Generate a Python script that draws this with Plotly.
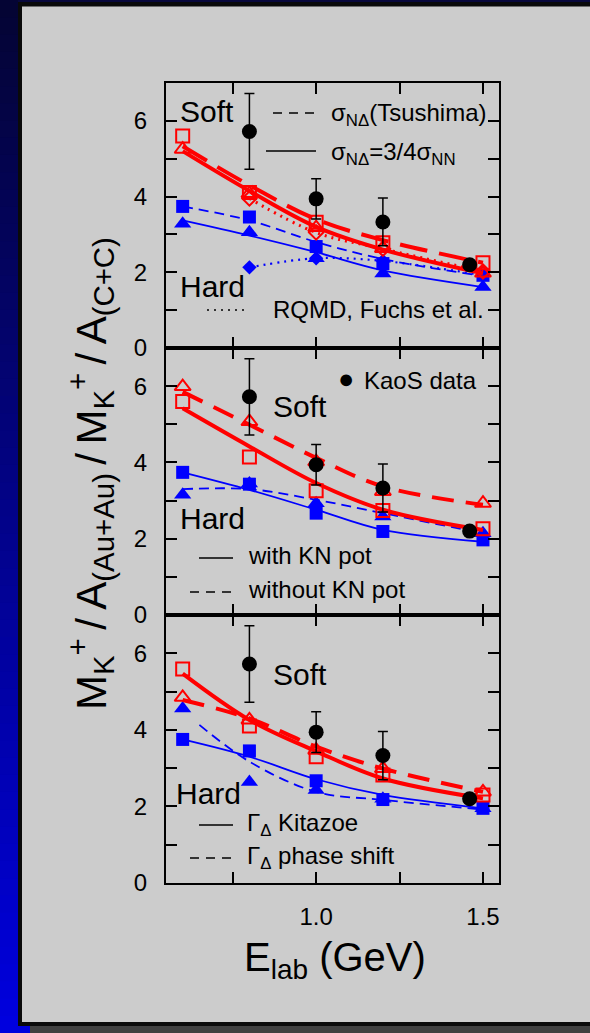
import plotly.graph_objects as go

# ---------------- data ----------------
E_MODEL = [0.6, 0.8, 1.0, 1.2, 1.5]
E_RQMD = [0.8, 1.0, 1.2, 1.5]
E_KAOS = [0.8, 1.0, 1.2, 1.46]
KAOS = [5.72, 3.94, 3.33, 2.2]
KAOS_ERR = [1.0, 0.53, 0.63, 0.0]

# panel 1: sigma_N-Delta cross section
tsu_soft_pts = [5.6, 4.11, 3.32, 2.78, 2.25]
tsu_soft_fit = [5.33, 4.3, 3.4, 2.85, 2.25]
nn_soft_pts = [5.25, 4.08, 3.18, 2.63, 1.98]
nn_soft_fit = [5.2, 4.15, 3.2, 2.6, 1.97]
tsu_hard_pts = [3.74, 3.46, 2.68, 2.23, 1.92]
tsu_hard_fit = [3.74, 3.37, 2.8, 2.35, 1.9]
nn_hard_pts = [3.28, 3.06, 2.37, 1.97, 1.61]
nn_hard_fit = [3.37, 2.97, 2.53, 2.05, 1.61]
rqmd_soft = [3.95, 3.05, 2.62, 2.02]
rqmd_hard = [2.13, 2.37, 2.3, 1.92]

# panel 2: with / without KN potential
with_soft_pts = [5.6, 4.14, 3.26, 2.74, 2.26]
with_soft_fit = [5.42, 4.42, 3.46, 2.76, 2.23]
wo_soft_pts = [5.99, 5.07, 4.02, 3.24, 2.93]
wo_soft_fit = [5.85, 4.99, 4.12, 3.37, 2.89]
with_hard_pts = [3.74, 3.43, 2.67, 2.19, 1.97]
with_hard_fit = [3.74, 3.28, 2.76, 2.23, 1.92]
wo_hard_pts = [3.15, 3.45, 2.93, 2.58, 2.14]
wo_hard_fit = [3.3, 3.3, 3.02, 2.67, 2.14]

# panel 3: Delta width parametrisation
kit_soft_pts = [5.59, 4.10, 3.30, 2.82, 2.3]
kit_soft_fit = [5.47, 4.26, 3.44, 2.73, 2.21]
ps_soft_pts = [4.85, 4.26, 3.47, 2.99, 2.38]
ps_soft_fit = [4.78, 4.3, 3.56, 2.99, 2.38]
kit_hard_pts = [3.75, 3.45, 2.67, 2.18, 1.95]
kit_hard_fit = [3.75, 3.3, 2.71, 2.3, 1.95]
ps_hard_pts = [4.56, 2.64, 2.43, 2.2, 1.95]
E_PS_HARD = [0.65, 0.8, 1.0, 1.2, 1.5]
ps_hard_fit = [4.13, 3.17, 2.38, 2.17, 1.92]

Y_TICKS = [0, 1, 2, 3, 4, 5, 6]
Y_TICKTEXT = ["0", "", "2", "", "4", "", "6"]
X_TICKS = [0.75, 1.0, 1.25, 1.5]
X_TICKTEXT = ["", "1.0", "", "1.5"]

RED = "#ff0000"
BLUE = "#0000ff"
FONT = "Liberation Sans, Arial, sans-serif"
W, H = 590, 1033


def px(x):
    return x / W


def py(y):
    return 1 - y / H


fig = go.Figure()


def line(xs, ys, color, width, dash, axis):
    fig.add_trace(go.Scatter(x=xs, y=ys, mode="lines", xaxis=axis[0], yaxis=axis[1],
                             line=dict(color=color, width=width, dash=dash, shape="spline"),
                             showlegend=False, hoverinfo="skip"))


def marks(xs, ys, symbol, color, size, axis, lw=2):
    fig.add_trace(go.Scatter(x=xs, y=ys, mode="markers", xaxis=axis[0], yaxis=axis[1],
                             marker=dict(symbol=symbol, size=size, color=color,
                                         line=dict(color=color, width=lw)),
                             showlegend=False))


def kaos(axis):
    fig.add_trace(go.Scatter(x=E_KAOS, y=KAOS, mode="markers", xaxis=axis[0], yaxis=axis[1],
                             marker=dict(symbol="circle", size=15, color="black"),
                             error_y=dict(type="data", array=KAOS_ERR, color="black",
                                          thickness=1.5, width=5),
                             showlegend=False))


RDASH = "28px,12px"
BDASH = "10px,6px"
DOT = "2px,5px"

# ---- panel 1 ----
A1 = ("x", "y")
line(E_MODEL, nn_hard_fit, BLUE, 1.8, "solid", A1)
line(E_MODEL, tsu_hard_fit, BLUE, 1.8, BDASH, A1)
line(E_RQMD, rqmd_hard, BLUE, 2.2, DOT, A1)
marks(E_MODEL, nn_hard_pts, "triangle-up", BLUE, 15, A1, 0)
marks(E_MODEL, tsu_hard_pts, "square", BLUE, 13, A1, 0)
marks(E_RQMD, rqmd_hard, "diamond", BLUE, 11, A1, 0)
line(E_RQMD, rqmd_soft, RED, 3, DOT, A1)
line(E_MODEL, nn_soft_fit, RED, 4, "solid", A1)
line(E_MODEL, tsu_soft_fit, RED, 4, RDASH, A1)
marks(E_RQMD, rqmd_soft, "diamond-open", RED, 11, A1)
marks(E_MODEL, nn_soft_pts, "triangle-up-open", RED, 14, A1)
marks(E_MODEL, tsu_soft_pts, "square-open", RED, 13, A1)
kaos(A1)

# ---- panel 2 ----
A2 = ("x2", "y2")
line(E_MODEL, with_hard_fit, BLUE, 1.8, "solid", A2)
line(E_MODEL, wo_hard_fit, BLUE, 1.8, BDASH, A2)
marks(E_MODEL, wo_hard_pts, "triangle-up", BLUE, 15, A2, 0)
marks(E_MODEL, with_hard_pts, "square", BLUE, 13, A2, 0)
line(E_MODEL, with_soft_fit, RED, 4, "solid", A2)
line(E_MODEL, wo_soft_fit, RED, 4, "22px,12px", A2)
marks(E_MODEL, wo_soft_pts, "triangle-up-open", RED, 14, A2)
marks(E_MODEL, with_soft_pts, "square-open", RED, 13, A2)
kaos(A2)

# ---- panel 3 ----
A3 = ("x3", "y3")
line(E_MODEL, kit_hard_fit, BLUE, 1.8, "solid", A3)
line(E_PS_HARD, ps_hard_fit, BLUE, 1.8, BDASH, A3)
marks(E_MODEL, ps_hard_pts, "triangle-up", BLUE, 15, A3, 0)
marks(E_MODEL, kit_hard_pts, "square", BLUE, 13, A3, 0)
line(E_MODEL, kit_soft_fit, RED, 4, "solid", A3)
line(E_MODEL, ps_soft_fit, RED, 4, "22px,12px", A3)
marks(E_MODEL, ps_soft_pts, "triangle-up-open", RED, 14, A3)
marks(E_MODEL, kit_soft_pts, "square-open", RED, 13, A3)
kaos(A3)

# ---------------- axes ----------------
XDOM = [px(166), px(499)]
common = dict(showline=True, linewidth=2, linecolor="black", mirror="allticks",
              ticks="inside", ticklen=11, tickwidth=2, tickcolor="black", automargin=False,
              showgrid=False, zeroline=False, tickfont=dict(family=FONT, size=24, color="black"))
xcommon = dict(common, range=[0.55, 1.548], tickvals=X_TICKS, domain=XDOM)
ycommon = dict(common, range=[0, 7], tickvals=Y_TICKS, ticktext=Y_TICKTEXT,
               ticklabelstandoff=12)

fig.update_layout(
    xaxis=dict(xcommon, anchor="y", showticklabels=False),
    xaxis2=dict(xcommon, anchor="y2", showticklabels=False),
    xaxis3=dict(xcommon, anchor="y3", ticktext=X_TICKTEXT, ticklabelstandoff=11),
    yaxis=dict(ycommon, anchor="x", domain=[py(348), py(83)]),
    yaxis2=dict(ycommon, anchor="x2", domain=[py(615), py(348)]),
    yaxis3=dict(ycommon, anchor="x3", domain=[py(883), py(615)]),
)

# ---------------- frame & background ----------------
shapes = []
N = 60
top_c = (4, 4, 52)
bot_c = (0, 0, 222)
for i in range(N):
    t = i / (N - 1)
    c = tuple(round(top_c[k] + (bot_c[k] - top_c[k]) * t) for k in range(3))
    # strips overlap by a few pixels so no seams show
    shapes.append(dict(type="rect", xref="paper", yref="paper", layer="above",
                       x0=0, x1=px(19), y0=py(min(H, H * (i + 1) / N + 3)), y1=py(H * i / N),
                       fillcolor="rgb(%d,%d,%d)" % c, line=dict(width=0)))
# bottom-left blue corner and dark shadow strip
shapes.append(dict(type="rect", xref="paper", yref="paper", layer="above",
                   x0=0, x1=px(30), y0=0, y1=py(1026), fillcolor="rgb(0,0,222)", line=dict(width=0)))
shapes.append(dict(type="rect", xref="paper", yref="paper", layer="above",
                   x0=px(30), x1=1, y0=0, y1=py(1026), fillcolor="#404040", line=dict(width=0)))
# navy top strip
shapes.append(dict(type="rect", xref="paper", yref="paper", layer="above",
                   x0=px(18), x1=1, y0=py(2), y1=1, fillcolor="rgb(8,8,60)", line=dict(width=0)))
# black panel border (left, top, bottom)
for (x0, x1, y0, y1) in [(18, 22, 2, 1026), (18, W, 2, 6.5), (18, W, 1022, 1026)]:
    shapes.append(dict(type="rect", xref="paper", yref="paper", layer="above",
                       x0=px(x0), x1=px(x1), y0=py(y1), y1=py(y0),
                       fillcolor="#0a0a0a", line=dict(width=0)))


# legend keys
def key(x0, x1, y, dash):
    shapes.append(dict(type="line", xref="paper", yref="paper", layer="above",
                       x0=px(x0), x1=px(x1), y0=py(y), y1=py(y),
                       line=dict(color="black", width=1.6, dash=dash)))


key(273, 316, 113, "9px,7px")
key(266, 316, 151, "solid")
key(207, 245, 310, "2px,5px")
key(199, 233, 558, "solid")
key(190, 233, 592, "9px,7px")
key(199, 233, 825, "solid")
key(190, 233, 858, "9px,7px")

# ---------------- text ----------------
ann = []


def text(s, x, y, size, anchor="left"):
    ann.append(dict(text=s, x=px(x), y=py(y), xref="paper", yref="paper",
                    xanchor=anchor, yanchor="middle", showarrow=False,
                    font=dict(family=FONT, size=size, color="black")))


text("Soft", 178, 111, 30)
text("Hard", 178, 286, 30)
text("σ<sub>NΔ</sub>(Tsushima)", 329, 114, 24)
text("σ<sub>NΔ</sub>=3/4σ<sub>NN</sub>", 329, 153, 24)
text("RQMD, Fuchs et al.", 271, 309, 24)

text("●", 336, 379, 27)
text("KaoS data", 362, 380, 24)
text("Soft", 271, 407, 30)
text("Hard", 178, 518, 30)
text("with KN pot", 246, 555, 24)
text("without KN pot", 246, 589, 24)

text("Soft", 271, 674, 30)
text("Hard", 174, 793, 30)
text("Γ<sub>Δ</sub> Kitazoe", 245, 824, 24)
text("Γ<sub>Δ</sub> phase shift", 245, 857, 24)

# axis titles
text("E<sub>lab</sub> (GeV)", 335, 960, 40, anchor="center")
TS = "\u2009"  # thin space around the slashes
ytitle = ("M<sub>K</sub><sup>+</sup>" + TS + "/" + TS + "A<sub>(Au+Au)</sub>" + TS + "/" + TS +
          "M<sub>K</sub><sup>+</sup>" + TS + "/" + TS + "A<sub>(C+C)</sub>")
ann.append(dict(text=ytitle,
                x=px(90), y=py(474), xref="paper", yref="paper", textangle=-90,
                xanchor="center", yanchor="middle", showarrow=False,
                font=dict(family=FONT, size=42, color="black")))

fig.update_layout(
    width=W, height=H, autosize=False,
    margin=dict(l=0, r=0, t=0, b=0, pad=0, autoexpand=False),
    paper_bgcolor="#cccccc", plot_bgcolor="#cccccc",
    shapes=shapes, annotations=ann, showlegend=False,
)

fig.write_html("out.html")
